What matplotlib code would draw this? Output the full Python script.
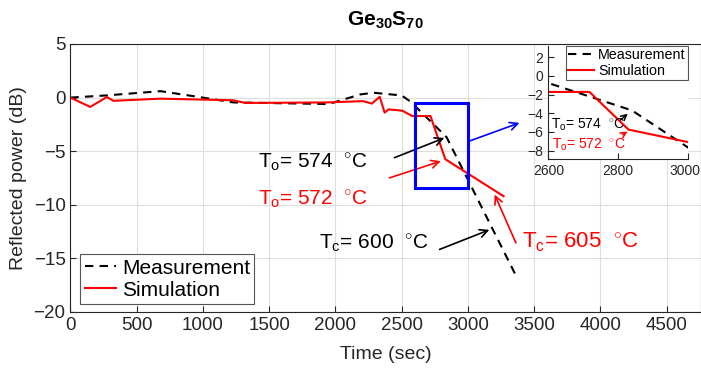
import numpy as np
import matplotlib
matplotlib.use('Agg')
import matplotlib.pyplot as plt
from matplotlib.patches import Rectangle
from matplotlib.transforms import ScaledTranslation

plt.rcParams['font.family'] = ['Liberation Sans', 'DejaVu Sans']
plt.rcParams['mathtext.fontset'] = 'custom'
plt.rcParams['mathtext.rm'] = 'Liberation Sans'
plt.rcParams['mathtext.it'] = 'Liberation Sans:italic'
plt.rcParams['mathtext.bf'] = 'Liberation Sans:bold'

meas_t = [0, 270, 680, 1000, 1230, 1950, 2190, 2290, 2500, 2570, 2840, 3375]
meas_v = [0, 0.2, 0.6, 0.0, -0.45, -0.6, 0.3, 0.45, 0.2, -0.4, -3.7, -16.9]

# simulation
sim_t = [0, 150, 275, 325, 680, 1230, 1320, 1940, 2210, 2275, 2335, 2372,
         2402, 2505, 2580, 2718, 2830, 3270]
sim_v = [0, -0.87, 0.05, -0.3, -0.1, -0.25, -0.5, -0.45, -0.33, -0.56, 0.07, -1.4,
         -1.1, -1.22, -1.72, -1.72, -5.75, -9.2]

zoom_box = [2600, 3000, -8.4, -0.5]

# annotation arrows (tail -> head) in data units
arrows_main = [
    ((2427, -5.70), (2842, -3.67), 'black'),
    ((2389, -7.57), (2816, -5.85), 'red'),
    ((2767, -14.26), (3182, -12.24), 'black'),
    ((3371, -13.79), (3194, -8.81), 'red'),
    ((2993, -4.14), (3409, -2.27), 'blue'),
]
labels_main = [
    (1417, -6.63, r'T$_{\mathrm{o}}$= 574  $^{\circ}$C', 'black', 15),
    (1417, -10.06, r'T$_{\mathrm{o}}$= 572  $^{\circ}$C', 'red', 15),
    (1873, -14.1, r'T$_{\mathrm{c}}$= 600  $^{\circ}$C', 'black', 15),
    (3409, -13.96, r'T$_{\mathrm{c}}$= 605  $^{\circ}$C', 'red', 16),
]
arrows_inset = [
    ((2801, -4.92), (2834, -3.85), 'black'),
    ((2806, -6.45), (2834, -5.81), 'red'),
]
labels_inset = [
    (2607, -5.63, r'T$_{\mathrm{o}}$= 574  $^{\circ}$C', 'black'),
    (2611, -7.77, r'T$_{\mathrm{o}}$= 572  $^{\circ}$C', 'red'),
]

AX_COLOR = '#262626'
GRID_COLOR = '#dedede'


def style_axes(ax, size):
    ax.tick_params(direction='in', length=4, width=0.8, colors=AX_COLOR,
                   labelsize=size, top=False, right=False)
    for s in ax.spines.values():
        s.set_color(AX_COLOR)
        s.set_linewidth(0.8)
    ax.grid(True, color=GRID_COLOR, linewidth=0.8)
    ax.set_axisbelow(True)


fig = plt.figure(figsize=(7.01, 3.70), dpi=100)
ax = fig.add_axes([0.1004, 0.1568, 0.8996, 0.7243])

ax.plot(meas_t, meas_v, color='black', linestyle='--', dashes=(4, 3), lw=1.5,
        label='Measurement')
ax.plot(sim_t, sim_v, color='red', lw=1.5, label='Simulation')

ax.set_xlim(0, 4760)
ax.set_ylim(-20, 5)
ax.set_xticks(np.arange(0, 4501, 500))
ax.set_yticks(np.arange(-20, 6, 5))
style_axes(ax, 13.5)
ax.set_xlabel('Time (sec)', fontsize=14, color=AX_COLOR, labelpad=9)
ax.set_ylabel('Reflected power (dB)', fontsize=14, color=AX_COLOR, labelpad=5)
ax.set_title(r'$\mathbf{Ge_{30}S_{70}}$', fontsize=15, pad=13)

leg = ax.legend(loc='lower left', bbox_to_anchor=(0.016, 0.03), fontsize=15,
                fancybox=False, edgecolor='#555555', framealpha=1,
                handlelength=1.5, handletextpad=0.3, borderpad=0.2,
                labelspacing=0.15, borderaxespad=0)
leg.get_frame().set_linewidth(0.8)

x0, x1, y0, y1 = zoom_box
ax.add_patch(Rectangle((x0, y0), x1 - x0, y1 - y0, fill=False,
                       edgecolor='blue', lw=2.2, zorder=4))

for (tail, head, c) in arrows_main:
    ax.annotate('', xy=head, xytext=tail,
                arrowprops=dict(arrowstyle='->', color=c, lw=1.2,
                                mutation_scale=14))
for (tx, ty, s, c, fs) in labels_main:
    ax.text(tx, ty, s, color=c, fontsize=fs, va='baseline', ha='left')

# inset
axi = fig.add_axes([0.7822, 0.5703, 0.1989, 0.3054])
axi.plot(meas_t, meas_v, color='black', linestyle='--', dashes=(4, 3), lw=1.5,
         label='Measurement')
axi.plot(sim_t, sim_v, color='red', lw=1.5, label='Simulation')
axi.set_xlim(2600, 3000)
axi.set_ylim(-8.9, 3.2)
axi.set_xticks([2600, 2800, 3000])
axi.set_yticks(np.arange(-8, 3, 2))
style_axes(axi, 10)
axi.spines['top'].set_visible(False)
axi.spines['right'].set_visible(False)
axi.grid(False)
# keep the last inset tick label inside the figure
last = axi.get_xticklabels()[-1]
last.set_transform(last.get_transform() + ScaledTranslation(-0.03, 0, fig.dpi_scale_trans))
li = axi.legend(loc='upper right', fontsize=10.3, fancybox=False,
                edgecolor='#555555', framealpha=1, handlelength=1.8,
                handletextpad=0.3, borderpad=0.15, labelspacing=0.1,
                borderaxespad=0)
li.get_frame().set_linewidth(0.8)
for (tail, head, c) in arrows_inset:
    axi.annotate('', xy=head, xytext=tail,
                 arrowprops=dict(arrowstyle='->', color=c, lw=1.1,
                                 mutation_scale=10))
for (tx, ty, s, c) in labels_inset:
    axi.text(tx, ty, s, color=c, fontsize=10, va='baseline', ha='left')

fig.savefig('out.png', dpi=100)
